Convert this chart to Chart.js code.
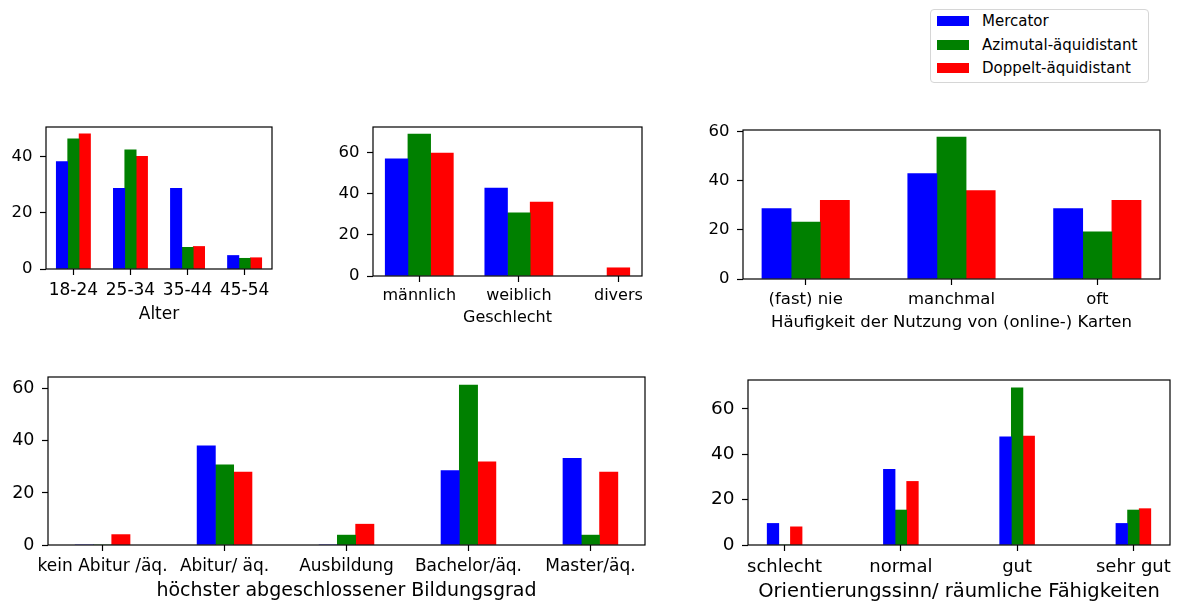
<!DOCTYPE html>
<html>
<head>
<meta charset="utf-8">
<script src="https://cdn.jsdelivr.net/npm/chart.js@4.4.1/dist/chart.umd.min.js"></script>
<style>
  body { margin: 0; background: #fff; width: 1178px; height: 604px; position: relative; overflow: hidden; font-family: "DejaVu Sans", sans-serif; }
  canvas { position: absolute; }
  #legend { position: absolute; left: 930px; top: 9px; width: 219px; height: 74px; border: 1px solid #d6d6d6; border-radius: 4px; background: #fff; box-sizing: border-box; }
  #legend .row { position: absolute; left: 6px; height: 20px; display: flex; align-items: center; font-size: 15px; color: #000; white-space: nowrap; }
  #legend .patch { width: 32px; height: 10px; margin-right: 13px; }
</style>
</head>
<body>
<canvas id="alter"></canvas>
<canvas id="geschlecht"></canvas>
<canvas id="nutzung"></canvas>
<canvas id="bildung"></canvas>
<canvas id="orient"></canvas>
<div id="legend"></div>
<script>
// series (share of respondents in %)
const seriesNames = ['Mercator', 'Azimutal-äquidistant', 'Doppelt-äquidistant'];
const seriesColors = ['#0000ff', '#008000', '#ff0000'];

const alterLabels = ['18-24', '25-34', '35-44', '45-54'];
const alterMercator = [38.1, 28.6, 28.6, 4.8];
const alterAzimutal = [46.2, 42.3, 7.7, 3.8];
const alterDoppelt = [48, 40, 8, 4];

const geschlechtLabels = ['männlich', 'weiblich', 'divers'];
const geschlechtMercator = [57.1, 42.9, null];
const geschlechtAzimutal = [69.2, 30.8, null];
const geschlechtDoppelt = [60, 36, 4];

const nutzungLabels = ['(fast) nie', 'manchmal', 'oft'];
const nutzungMercator = [28.6, 42.9, 28.6];
const nutzungAzimutal = [23.1, 57.7, 19.2];
const nutzungDoppelt = [32, 36, 32];

const bildungLabels = ['kein Abitur /äq.', 'Abitur/ äq.', 'Ausbildung', 'Bachelor/äq.', 'Master/äq.'];
const bildungMercator = [0, 38.1, 0, 28.6, 33.3];
const bildungAzimutal = [0, 30.8, 3.8, 61.5, 3.8];
const bildungDoppelt = [4, 28, 8, 32, 28];

const orientLabels = ['schlecht', 'normal', 'gut', 'sehr gut'];
const orientMercator = [9.5, 33.3, 47.6, 9.5];
const orientAzimutal = [0, 15.4, 69.2, 15.4];
const orientDoppelt = [8, 28, 48, 16];

Chart.defaults.font.family = '"DejaVu Sans"';
Chart.defaults.color = '#000';

const Y_W = 60, PAD_T = 14, PAD_R = 40;

//box around the plot area, like matplotlib spines
const framePlugin = {
  id: 'frame',
  afterDraw(chart) {
    const a = chart.chartArea, ctx = chart.ctx;
    ctx.save();
    ctx.strokeStyle = '#000';
    ctx.lineWidth = 1.2;
    ctx.strokeRect(a.left, a.top, a.right - a.left, a.bottom - a.top);
    ctx.restore();
  }
};

function panel(id, box, labels, values, xTitle, opt) {
  const w = opt.barWidth;
  // bar groups span in category units, nulls are skipped
  let lo = Infinity, hi = -Infinity;
  labels.forEach((_, i) => {
    const n = values.filter(v => v[i] !== null).length;
    lo = Math.min(lo, i - n * w / 2);
    hi = Math.max(hi, i + n * w / 2);
  });
  const m = 0.05 * (hi - lo);
  const xMin = lo - m, xMax = hi + m;
  const unitPx = (box.r - box.l) / (xMax - xMin);
  const yMax = Math.max(...values.flat().filter(v => v !== null)) * 1.05;

  const cv = document.getElementById(id);
  cv.width = Y_W + (box.r - box.l) + PAD_R;
  cv.height = PAD_T + (box.b - box.t) + opt.xHeight;
  cv.style.left = (box.l - Y_W) + 'px';
  cv.style.top = (box.t - PAD_T) + 'px';

  new Chart(cv, {
    type: 'bar',
    data: {
      datasets: values.map((vals, k) => ({
        label: seriesNames[k],
        backgroundColor: seriesColors[k],
        borderWidth: 0,
        barThickness: w * unitPx,
        skipNull: true,
        data: labels.map((_, i) => ({ x: i, y: vals[i] }))
      }))
    },
    options: {
      responsive: false,
      animation: false,
      devicePixelRatio: 1,
      layout: { padding: { top: PAD_T, right: PAD_R, left: 0, bottom: 0 } },
      plugins: { legend: { display: false }, tooltip: { enabled: false } },
      scales: {
        x: {
          type: 'linear',
          min: xMin,
          max: xMax,
          offset: false,
          grid: { offset: false, drawOnChartArea: false, tickLength: 6, tickColor: '#000', tickWidth: 1.2 },
          border: { display: false },
          ticks: {
            autoSkip: false, maxRotation: 0, minRotation: 0,
            padding: opt.tickPad,
            font: { size: opt.tickSize },
            callback: v => labels[v]
          },
          afterBuildTicks: s => { s.ticks = labels.map((_, i) => ({ value: i })); },
          afterFit: s => { s.height = opt.xHeight; s.paddingLeft = 0; s.paddingRight = 0; },
          title: { display: true, text: xTitle, padding: 0, font: { size: opt.titleSize } }
        },
        y: {
          min: 0,
          max: yMax,
          grid: { drawOnChartArea: false, tickLength: 6, tickColor: '#000', tickWidth: 1.2 },
          border: { display: false },
          ticks: { stepSize: 20, includeBounds: false, padding: 7.5, font: { size: opt.yTickSize } },
          afterFit: s => { s.width = Y_W; s.paddingTop = 0; s.paddingBottom = 0; }
        }
      }
    },
    plugins: [framePlugin]
  });
}

panel('alter', { l: 46, t: 127, r: 272, b: 269 }, alterLabels,
  [alterMercator, alterAzimutal, alterDoppelt], 'Alter',
  { barWidth: 0.2, tickSize: 17, yTickSize: 16.5, titleSize: 17, tickPad: 5, xHeight: 56 });

panel('geschlecht', { l: 373, t: 127, r: 642, b: 276 }, geschlechtLabels,
  [geschlechtMercator, geschlechtAzimutal, geschlechtDoppelt], 'Geschlecht',
  { barWidth: 0.228, tickSize: 16, yTickSize: 16.5, titleSize: 16, tickPad: 4, xHeight: 51 });

panel('nutzung', { l: 743, t: 130, r: 1160, b: 279 }, nutzungLabels,
  [nutzungMercator, nutzungAzimutal, nutzungDoppelt], 'Häufigkeit der Nutzung von (online-) Karten',
  { barWidth: 0.2, tickSize: 16.5, yTickSize: 16.5, titleSize: 16.5, tickPad: 5, xHeight: 54 });

panel('bildung', { l: 48, t: 377, r: 645, b: 545 }, bildungLabels,
  [bildungMercator, bildungAzimutal, bildungDoppelt], 'höchster abgeschlossener Bildungsgrad',
  { barWidth: 0.15, tickSize: 17, yTickSize: 17.5, titleSize: 19, tickPad: 5.5, xHeight: 57 });

panel('orient', { l: 748, t: 380, r: 1170, b: 545 }, orientLabels,
  [orientMercator, orientAzimutal, orientDoppelt], 'Orientierungssinn/ räumliche Fähigkeiten',
  { barWidth: 0.1, tickSize: 18, yTickSize: 18.5, titleSize: 19.5, tickPad: 6, xHeight: 59 });

// legend
const legend = document.getElementById('legend');
seriesNames.forEach((name, k) => {
  const row = document.createElement('div');
  row.className = 'row';
  row.style.top = (1 + k * 23.5) + 'px';
  const patch = document.createElement('span');
  patch.className = 'patch';
  patch.style.background = seriesColors[k];
  row.appendChild(patch);
  row.appendChild(document.createTextNode(name));
  legend.appendChild(row);
});
</script>
</body>
</html>
